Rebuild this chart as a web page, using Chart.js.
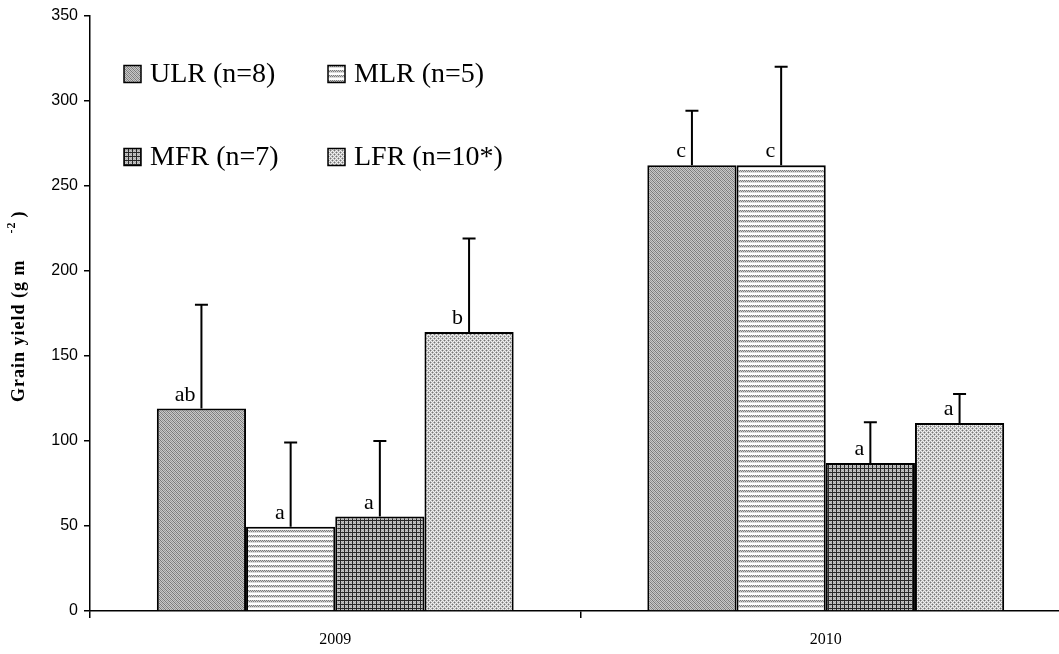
<!DOCTYPE html>
<html>
<head>
<meta charset="utf-8">
<script src="https://cdn.jsdelivr.net/npm/chart.js@4.4.1/dist/chart.umd.min.js"></script>
<style>
  html, body { margin: 0; padding: 0; background: #fff; overflow: hidden; }
  #wrap { width: 1075px; height: 654px; }
</style>
</head>
<body>
<div id="wrap"><canvas id="c" width="1075" height="654"></canvas></div>
<script>
// Grain yield by landscape position, two seasons
const years = ['2009', '2010'];
const seriesNames = ['ULR (n=8)', 'MLR (n=5)', 'MFR (n=7)', 'LFR (n=10*)'];

const ulrYield = [119, 262];
const mlrYield = [49.5, 262];
const mfrYield = [55.5, 87];
const lfrYield = [164, 110.5];

// upper error (standard deviation)
const ulrErr = [61, 32];
const mlrErr = [49.5, 58];
const mfrErr = [44.5, 24];
const lfrErr = [55, 17];

// significance letters
const ulrLetters = ['ab', 'c'];
const mlrLetters = ['a', 'c'];
const mfrLetters = ['a', 'a'];
const lfrLetters = ['b', 'a'];

const yTickMax = 350;
const yTickStep = 50;

const SERIF = '"Liberation Serif", "Times New Roman", serif';
const SANS = '"Liberation Sans", Arial, sans-serif';

// small monochrome fill textures
function makePattern(size, pixelFn) {
  const cv = document.createElement('canvas');
  cv.width = size; cv.height = size;
  const cx = cv.getContext('2d');
  const img = cx.createImageData(size, size);
  for (let y = 0; y < size; y++) {
    for (let x = 0; x < size; x++) {
      const g = pixelFn(x, y);
      const i = (y * size + x) * 4;
      img.data[i] = g; img.data[i + 1] = g; img.data[i + 2] = g; img.data[i + 3] = 255;
    }
  }
  cx.putImageData(img, 0, 0);
  return document.getElementById('c').getContext('2d').createPattern(cv, 'repeat');
}

// fine diagonal weave, medium gray
const diagFill = makePattern(4, (x, y) => {
  if (((x - y) % 4 + 4) % 4 === 0) return 120;
  return (x + y) % 2 === 0 ? 150 : 200;
});
// dotted horizontal stripes
const stripeFill = makePattern(10, (x, y) => {
  const r = y % 5;
  if (r < 2) return (x + y) % 2 === 0 ? 125 : 205;
  if (r === 2) return 220;
  return 255;
});
// dense square grid
const gridFill = makePattern(4, (x, y) => (x % 4 === 0 || y % 4 === 0) ? 40 : ((x + y) % 2 === 0 ? 200 : 170));
// small checkered dots
const dotFill = makePattern(4, (x, y) => {
  if ((x === 0 && y === 0) || (x === 2 && y === 2)) return 115;
  if ((x + y) % 2 === 1) return 185;
  return 240;
});

const fills = [diagFill, stripeFill, gridFill, dotFill];
const yields = [ulrYield, mlrYield, mfrYield, lfrYield];
const errs = [ulrErr, mlrErr, mfrErr, lfrErr];
const letters = [ulrLetters, mlrLetters, mfrLetters, lfrLetters];

const datasets = seriesNames.map((name, i) => ({
  label: name,
  data: yields[i],
  backgroundColor: fills[i],
  borderColor: '#000',
  borderWidth: 2,
  borderSkipped: 'bottom',
  barPercentage: 1.0,
  categoryPercentage: 0.7275
}));

// error bars (upper only) and letters above each bar
const barExtras = {
  id: 'barExtras',
  afterDatasetsDraw(chart) {
    const ctx = chart.ctx;
    const ys = chart.scales.y;
    ctx.save();
    chart.data.datasets.forEach((ds, i) => {
      const meta = chart.getDatasetMeta(i);
      meta.data.forEach((bar, j) => {
        const x = bar.x;
        const top = bar.y;
        const eTop = ys.getPixelForValue(yields[i][j] + errs[i][j]);
        ctx.strokeStyle = '#000';
        ctx.lineWidth = 2;
        ctx.beginPath();
        ctx.moveTo(x, top);
        ctx.lineTo(x, eTop);
        ctx.moveTo(x - 6.5, eTop);
        ctx.lineTo(x + 6.5, eTop);
        ctx.stroke();
        ctx.fillStyle = '#000';
        ctx.font = '22px ' + SERIF;
        ctx.textAlign = 'right';
        ctx.textBaseline = 'alphabetic';
        ctx.fillText(letters[i][j], x - 6, top - 8);
      });
    });
    ctx.restore();
  }
};

// two-by-two legend inside the plot area, plus rotated y title with superscript
const decorations = {
  id: 'decorations',
  afterDraw(chart) {
    const ctx = chart.ctx;
    ctx.save();
    const cols = [124, 328];
    const rows = [74, 157];
    seriesNames.forEach((name, i) => {
      const bx = cols[i % 2];
      const cy = rows[Math.floor(i / 2)];
      ctx.fillStyle = fills[i];
      ctx.fillRect(bx, cy - 8.5, 17, 17);
      ctx.strokeStyle = '#000';
      ctx.lineWidth = 1.5;
      ctx.strokeRect(bx, cy - 8.5, 17, 17);
      ctx.fillStyle = '#000';
      ctx.font = '28px ' + SERIF;
      ctx.textAlign = 'left';
      ctx.textBaseline = 'middle';
      ctx.fillText(name, bx + 26, cy + 1);
    });

    ctx.translate(24, 402);
    ctx.rotate(-Math.PI / 2);
    ctx.fillStyle = '#000';
    ctx.textAlign = 'left';
    ctx.textBaseline = 'alphabetic';
    ctx.letterSpacing = '1px';
    ctx.font = 'bold 18px ' + SERIF;
    const main = 'Grain yield (g m';
    ctx.fillText(main, 0, 0);
    let w = ctx.measureText(main).width + 26;
    ctx.font = 'bold 12px ' + SERIF;
    ctx.fillText('-2', w, -9);
    w += ctx.measureText('-2').width + 4;
    ctx.font = 'bold 18px ' + SERIF;
    ctx.fillText(')', w, 0);
    ctx.restore();
  }
};

new Chart(document.getElementById('c'), {
  type: 'bar',
  data: { labels: years, datasets },
  options: {
    responsive: false,
    animation: false,
    devicePixelRatio: 1,
    layout: { padding: { top: 15, right: 4, left: 0, bottom: 0 } },
    plugins: { legend: { display: false }, tooltip: { enabled: false } },
    scales: {
      x: {
        offset: true,
        grid: { offset: true, drawOnChartArea: false, tickLength: 7, color: '#000', lineWidth: 1.5 },
        border: { color: '#000', width: 1.5 },
        ticks: { font: { family: SERIF, size: 16 }, color: '#000', padding: 12 },
        afterFit(s) { s.height = 43; }
      },
      y: {
        min: 0,
        max: yTickMax,
        ticks: { stepSize: yTickStep, font: { family: SANS, size: 16 }, color: '#000', padding: 6 },
        grid: { drawOnChartArea: false, tickLength: 6, color: '#000', lineWidth: 1.5 },
        border: { color: '#000', width: 1.5 },
        afterFit(s) { s.width = 90; }
      }
    }
  },
  plugins: [barExtras, decorations]
});
</script>
</body>
</html>
